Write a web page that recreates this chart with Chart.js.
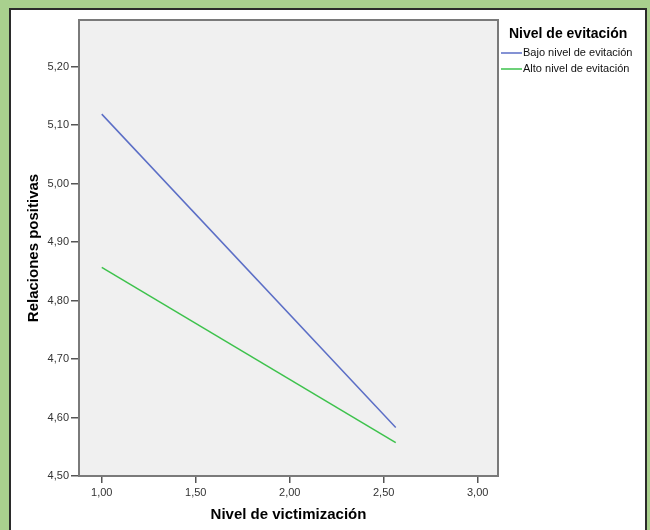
<!DOCTYPE html>
<html>
<head>
<meta charset="utf-8">
<script src="https://cdn.jsdelivr.net/npm/chart.js@4"></script>
<style>
  html, body { margin: 0; padding: 0; }
  body { width: 650px; height: 530px; background: #a9d08e; position: relative; overflow: hidden; }
  #panel { position: absolute; left: 9px; top: 8px; width: 634px; height: 530px;
           background: #fff; border: 2px solid #2b2b2b; border-bottom: none; }
  #wrap { position: absolute; left: 0; top: 0; width: 650px; height: 530px; }
</style>
</head>
<body>
<div id="panel"></div>
<div id="wrap"><canvas id="chart" width="650" height="530"></canvas></div>
<script>
// data
const victimizacion = [1.00, 2.564];
const bajoEvitacion = [5.119, 4.583];
const altoEvitacion = [4.857, 4.557];
const xTicks = [1.0, 1.5, 2.0, 2.5, 3.0];
const yTicks = [4.5, 4.6, 4.7, 4.8, 4.9, 5.0, 5.1, 5.2];
const seriesNames = ["Bajo nivel de evitación", "Alto nivel de evitación"];
const legendTitle = "Nivel de evitación";

const fmt = v => v.toFixed(2).replace(".", ",");
const FONT = "'Liberation Sans', Arial, sans-serif";

// grey plot background + frame
const plotFrame = {
  id: "plotFrame",
  beforeDraw(chart) {
    const { ctx, chartArea: a } = chart;
    ctx.save();
    ctx.fillStyle = "#f0f0f0";
    ctx.fillRect(a.left, a.top, a.right - a.left, a.bottom - a.top);
    ctx.restore();
  },
  afterDatasetsDraw(chart) {
    const { ctx, chartArea: a } = chart;
    ctx.save();
    ctx.strokeStyle = "#7a7a7a";
    ctx.lineWidth = 2;
    ctx.strokeRect(a.left, a.top, a.right - a.left, a.bottom - a.top);
    ctx.restore();
  }
};

// legend to the right of the plot, like SPSS
const sideLegend = {
  id: "sideLegend",
  afterDraw(chart) {
    const { ctx, chartArea: a } = chart;
    const x0 = a.right + 3;
    ctx.save();
    ctx.fillStyle = "#000";
    ctx.font = "bold 14px " + FONT;
    ctx.textBaseline = "middle";
    ctx.fillText(legendTitle, x0 + 8, 34);
    ctx.font = "11px " + FONT;
    chart.data.datasets.forEach((ds, i) => {
      const y = 53 + i * 16;
      ctx.strokeStyle = ds.borderColor;
      ctx.lineWidth = 1.5;
      ctx.beginPath();
      ctx.moveTo(x0, y);
      ctx.lineTo(x0 + 21, y);
      ctx.stroke();
      ctx.fillStyle = "#111";
      ctx.fillText(ds.label, x0 + 22, y);
    });
    ctx.restore();
  }
};

new Chart(document.getElementById("chart").getContext("2d"), {
  type: "line",
  data: {
    datasets: [
      {
        label: seriesNames[0],
        data: victimizacion.map((x, i) => ({ x: x, y: bajoEvitacion[i] })),
        borderColor: "#5b6ec6",
        borderWidth: 1.5,
        pointRadius: 0,
        fill: false
      },
      {
        label: seriesNames[1],
        data: victimizacion.map((x, i) => ({ x: x, y: altoEvitacion[i] })),
        borderColor: "#3dc24c",
        borderWidth: 1.5,
        pointRadius: 0,
        fill: false
      }
    ]
  },
  plugins: [plotFrame, sideLegend],
  options: {
    responsive: false,
    animation: false,
    layout: { padding: { left: 0, top: 20, right: 152, bottom: 0 } },
    scales: {
      x: {
        type: "linear",
        min: 0.879,
        max: 3.108,
        afterBuildTicks: s => { s.ticks = xTicks.map(v => ({ value: v })); },
        afterFit: s => { s.height = 54; },
        grid: { drawOnChartArea: false, drawTicks: true, tickLength: 7, color: "#555", lineWidth: 1.5 },
        border: { display: false },
        ticks: {
          callback: v => fmt(v),
          color: "#333",
          padding: 3,
          maxRotation: 0,
          font: { family: FONT, size: 11 }
        },
        title: {
          display: true,
          text: "Nivel de victimización",
          color: "#000",
          padding: { top: 0, bottom: 6 },
          font: { family: FONT, size: 15, weight: "bold" }
        }
      },
      y: {
        min: 4.5,
        max: 5.28,
        afterBuildTicks: s => { s.ticks = yTicks.map(v => ({ value: v })); },
        afterFit: s => { s.width = 79; },
        grid: { drawOnChartArea: false, drawTicks: true, tickLength: 8, color: "#555", lineWidth: 1.5 },
        border: { display: false },
        ticks: {
          callback: v => fmt(v),
          color: "#333",
          padding: 2,
          font: { family: FONT, size: 11 }
        },
        title: {
          display: true,
          text: "Relaciones positivas",
          color: "#000",
          padding: { top: 25, bottom: 0 },
          font: { family: FONT, size: 15, weight: "bold" }
        }
      }
    },
    plugins: {
      legend: { display: false },
      tooltip: { enabled: false }
    }
  }
});
</script>
</body>
</html>
